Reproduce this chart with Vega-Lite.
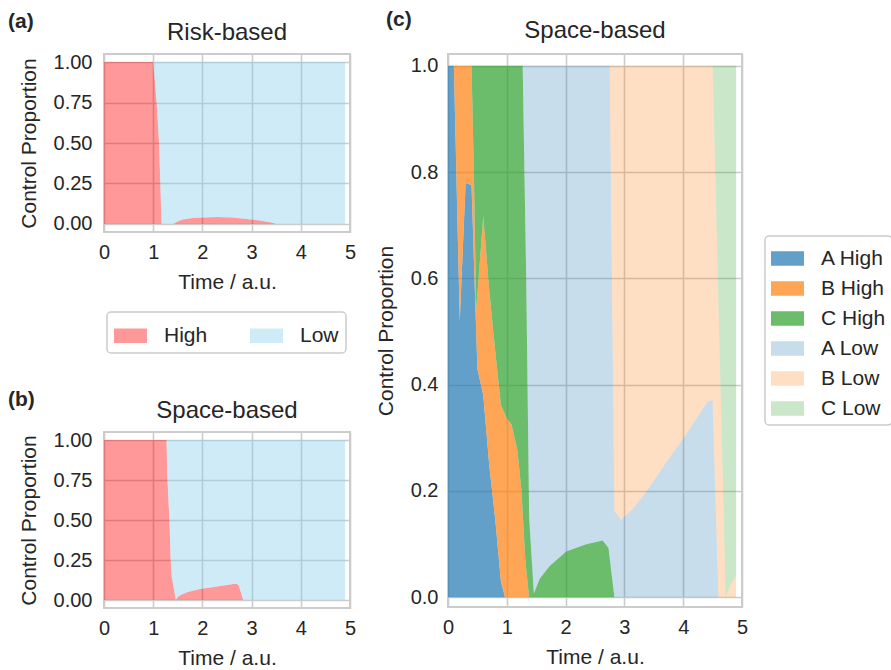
{
  "$schema": "https://vega.github.io/schema/vega-lite/v6.json",
  "background": "white",
  "padding": {"left": 8, "top": 9, "right": 0, "bottom": 0},
  "config": {
    "font": "Liberation Sans",
    "view": {"stroke": "#cccccc", "strokeWidth": 2},
    "axis": {"grid": true, "gridColor": "#cccccc", "gridWidth": 1.6, "domain": false, "ticks": false, "tickSize": 0, "labelFontSize": 20, "labelColor": "#262626", "titleFontSize": 21, "titleColor": "#262626", "titleFontWeight": "normal", "labelFlush": false, "labelOverlap": false},
    "axisX": {"labelPadding": 10, "titlePadding": 9},
    "axisY": {"labelPadding": 11, "titlePadding": 14},
    "title": {"fontSize": 24, "fontWeight": "normal", "color": "#262626", "baseline": "alphabetic"},
    "legend": {"symbolType": "M-1,-0.44H1V0.44H-1Z", "symbolSize": 1089, "symbolStrokeWidth": 0, "labelFontSize": 21, "labelColor": "#262626", "labelOffset": 17, "labelLimit": 300, "strokeColor": "#cccccc", "strokeWidth": 1.5, "cornerRadius": 4, "fillColor": "white"}
  },
  "datasets": {
    "a": [
      {"t": 0, "High": 1, "Low": 0},
      {"t": 1.0, "High": 1, "Low": 0},
      {"t": 1.07, "High": 0.75, "Low": 0.25},
      {"t": 1.12, "High": 0.5, "Low": 0.5},
      {"t": 1.145, "High": 0.25, "Low": 0.75},
      {"t": 1.17, "High": 0, "Low": 1},
      {"t": 1.41, "High": 0, "Low": 1},
      {"t": 1.5, "High": 0.017, "Low": 0.983},
      {"t": 1.6, "High": 0.027, "Low": 0.973},
      {"t": 1.8, "High": 0.036, "Low": 0.964},
      {"t": 2.0, "High": 0.04, "Low": 0.96},
      {"t": 2.3, "High": 0.042, "Low": 0.958},
      {"t": 2.6, "High": 0.039, "Low": 0.961},
      {"t": 2.9, "High": 0.031, "Low": 0.969},
      {"t": 3.2, "High": 0.02, "Low": 0.98},
      {"t": 3.4, "High": 0.008, "Low": 0.992},
      {"t": 3.5, "High": 0, "Low": 1},
      {"t": 4.9, "High": 0, "Low": 1}
    ],
    "b": [
      {"t": 0, "High": 1, "Low": 0},
      {"t": 1.27, "High": 1, "Low": 0},
      {"t": 1.29, "High": 0.75, "Low": 0.25},
      {"t": 1.33, "High": 0.5, "Low": 0.5},
      {"t": 1.355, "High": 0.25, "Low": 0.75},
      {"t": 1.375, "High": 0.15, "Low": 0.85},
      {"t": 1.46, "High": 0, "Low": 1},
      {"t": 1.5, "High": 0.02, "Low": 0.98},
      {"t": 1.58, "High": 0.035, "Low": 0.965},
      {"t": 1.7, "High": 0.05, "Low": 0.95},
      {"t": 1.95, "High": 0.068, "Low": 0.932},
      {"t": 2.3, "High": 0.084, "Low": 0.916},
      {"t": 2.63, "High": 0.1, "Low": 0.9},
      {"t": 2.7, "High": 0.1, "Low": 0.9},
      {"t": 2.74, "High": 0.09, "Low": 0.91},
      {"t": 2.83, "High": 0, "Low": 1},
      {"t": 4.9, "High": 0, "Low": 1}
    ],
    "c": [
      {"t": 0, "A High": 1, "B High": 0, "C High": 0, "A Low": 0, "B Low": 0, "C Low": 0},
      {"t": 0.1, "A High": 1, "B High": 0, "C High": 0, "A Low": 0, "B Low": 0, "C Low": 0},
      {"t": 0.2, "A High": 0.52, "B High": 0.48, "C High": 0, "A Low": 0, "B Low": 0, "C Low": 0},
      {"t": 0.3, "A High": 0.78, "B High": 0.22, "C High": 0, "A Low": 0, "B Low": 0, "C Low": 0},
      {"t": 0.4, "A High": 0.775, "B High": 0.225, "C High": 0, "A Low": 0, "B Low": 0, "C Low": 0},
      {"t": 0.44, "A High": 0.637, "B High": 0.163, "C High": 0.2, "A Low": 0, "B Low": 0, "C Low": 0},
      {"t": 0.48, "A High": 0.499, "B High": 0.041, "C High": 0.46, "A Low": 0, "B Low": 0, "C Low": 0},
      {"t": 0.5, "A High": 0.43, "B High": 0.14, "C High": 0.43, "A Low": 0, "B Low": 0, "C Low": 0},
      {"t": 0.6, "A High": 0.38, "B High": 0.337, "C High": 0.283, "A Low": 0, "B Low": 0, "C Low": 0},
      {"t": 0.7, "A High": 0.25, "B High": 0.329, "C High": 0.421, "A Low": 0, "B Low": 0, "C Low": 0},
      {"t": 0.8, "A High": 0.15, "B High": 0.317, "C High": 0.533, "A Low": 0, "B Low": 0, "C Low": 0},
      {"t": 0.9, "A High": 0.03, "B High": 0.332, "C High": 0.638, "A Low": 0, "B Low": 0, "C Low": 0},
      {"t": 0.97, "A High": 0, "B High": 0.344, "C High": 0.656, "A Low": 0, "B Low": 0, "C Low": 0},
      {"t": 1.0, "A High": 0, "B High": 0.337, "C High": 0.663, "A Low": 0, "B Low": 0, "C Low": 0},
      {"t": 1.08, "A High": 0, "B High": 0.325, "C High": 0.675, "A Low": 0, "B Low": 0, "C Low": 0},
      {"t": 1.18, "A High": 0, "B High": 0.277, "C High": 0.723, "A Low": 0, "B Low": 0, "C Low": 0},
      {"t": 1.25, "A High": 0, "B High": 0.2, "C High": 0.8, "A Low": 0, "B Low": 0, "C Low": 0},
      {"t": 1.27, "A High": 0, "B High": 0.16, "C High": 0.84, "A Low": 0, "B Low": 0, "C Low": 0},
      {"t": 1.31, "A High": 0, "B High": 0.08, "C High": 0.653, "A Low": 0.267, "B Low": 0, "C Low": 0},
      {"t": 1.33, "A High": 0, "B High": 0.053, "C High": 0.547, "A Low": 0.4, "B Low": 0, "C Low": 0},
      {"t": 1.38, "A High": 0, "B High": 0, "C High": 0.15, "A Low": 0.85, "B Low": 0, "C Low": 0},
      {"t": 1.46, "A High": 0, "B High": 0, "C High": 0.007, "A Low": 0.993, "B Low": 0, "C Low": 0},
      {"t": 1.56, "A High": 0, "B High": 0, "C High": 0.035, "A Low": 0.965, "B Low": 0, "C Low": 0},
      {"t": 1.73, "A High": 0, "B High": 0, "C High": 0.059, "A Low": 0.941, "B Low": 0, "C Low": 0},
      {"t": 2.01, "A High": 0, "B High": 0, "C High": 0.086, "A Low": 0.914, "B Low": 0, "C Low": 0},
      {"t": 2.35, "A High": 0, "B High": 0, "C High": 0.1, "A Low": 0.9, "B Low": 0, "C Low": 0},
      {"t": 2.63, "A High": 0, "B High": 0, "C High": 0.107, "A Low": 0.893, "B Low": 0, "C Low": 0},
      {"t": 2.73, "A High": 0, "B High": 0, "C High": 0.093, "A Low": 0.907, "B Low": 0, "C Low": 0},
      {"t": 2.75, "A High": 0, "B High": 0, "C High": 0.074, "A Low": 0.926, "B Low": 0, "C Low": 0},
      {"t": 2.83, "A High": 0, "B High": 0, "C High": 0, "A Low": 0.163, "B Low": 0.837, "C Low": 0},
      {"t": 2.94, "A High": 0, "B High": 0, "C High": 0, "A Low": 0.146, "B Low": 0.854, "C Low": 0},
      {"t": 3.14, "A High": 0, "B High": 0, "C High": 0, "A Low": 0.166, "B Low": 0.834, "C Low": 0},
      {"t": 3.4, "A High": 0, "B High": 0, "C High": 0, "A Low": 0.203, "B Low": 0.797, "C Low": 0},
      {"t": 3.71, "A High": 0, "B High": 0, "C High": 0, "A Low": 0.254, "B Low": 0.746, "C Low": 0},
      {"t": 3.99, "A High": 0, "B High": 0, "C High": 0, "A Low": 0.297, "B Low": 0.703, "C Low": 0},
      {"t": 4.27, "A High": 0, "B High": 0, "C High": 0, "A Low": 0.344, "B Low": 0.656, "C Low": 0},
      {"t": 4.41, "A High": 0, "B High": 0, "C High": 0, "A Low": 0.368, "B Low": 0.632, "C Low": 0},
      {"t": 4.5, "A High": 0, "B High": 0, "C High": 0, "A Low": 0.371, "B Low": 0.629, "C Low": 0},
      {"t": 4.6, "A High": 0, "B High": 0, "C High": 0, "A Low": 0, "B Low": 0.55, "C Low": 0.45},
      {"t": 4.7, "A High": 0, "B High": 0, "C High": 0, "A Low": 0, "B Low": 0.1, "C Low": 0.9},
      {"t": 4.72, "A High": 0, "B High": 0, "C High": 0, "A Low": 0, "B Low": 0, "C Low": 1},
      {"t": 4.8, "A High": 0, "B High": 0, "C High": 0, "A Low": 0, "B Low": 0.022, "C Low": 0.978},
      {"t": 4.9, "A High": 0, "B High": 0, "C High": 0, "A Low": 0, "B Low": 0.042, "C Low": 0.958}
    ]
  },
  "spacing": 17,
  "resolve": {"scale": {"color": "independent", "opacity": "independent"}, "legend": {"color": "independent", "opacity": "independent"}},
  "hconcat": [
    {
      "spacing": 35,
      "resolve": {"scale": {"color": "independent"}, "legend": {"color": "independent"}},
      "vconcat": [
        {
          "title": {"text": "(a)", "anchor": "start", "frame": "group", "fontWeight": "bold", "fontSize": 21, "dx": -96, "dy": 29, "offset": 0, "baseline": "alphabetic"},
          "vconcat": [
            {
              "width": 246,
              "height": 178,
              "title": {"text": "Risk-based", "offset": 7},
              "data": {"name": "a"},
              "transform": [{"fold": ["High", "Low"], "as": ["g", "v"]}],
              "mark": {"type": "area", "opacity": 0.4, "interpolate": "linear"},
              "encoding": {
                "x": {"field": "t", "type": "quantitative", "scale": {"domain": [0, 5], "nice": false, "zero": false}, "axis": {"values": [0, 1, 2, 3, 4, 5], "format": "d", "title": "Time / a.u."}},
                "y": {"field": "v", "type": "quantitative", "stack": "zero", "scale": {"domain": [-0.05, 1.05], "nice": false, "zero": false}, "axis": {"values": [0, 0.25, 0.5, 0.75, 1], "format": ".2f", "title": "Control Proportion", "labelPadding": 12}},
                "color": {"field": "g", "type": "nominal", "scale": {"domain": ["High", "Low"], "range": ["#ff0000", "#87ceeb"]}, "legend": {"orient": "none", "legendX": 3, "legendY": 258, "direction": "horizontal", "title": null, "padding": 7, "columnPadding": 42, "symbolOpacity": 0.4}},
                "order": {"field": "g", "sort": "ascending"}
              }
            }
          ]
        },
        {
          "title": {"text": "(b)", "anchor": "start", "frame": "group", "fontWeight": "bold", "fontSize": 21, "dx": -96, "dy": 29, "offset": 0, "baseline": "alphabetic"},
          "vconcat": [
            {
              "width": 246,
              "height": 176,
              "title": {"text": "Space-based", "offset": 7},
              "data": {"name": "b"},
              "transform": [{"fold": ["High", "Low"], "as": ["g", "v"]}],
              "mark": {"type": "area", "opacity": 0.4, "interpolate": "linear"},
              "encoding": {
                "x": {"field": "t", "type": "quantitative", "scale": {"domain": [0, 5], "nice": false, "zero": false}, "axis": {"values": [0, 1, 2, 3, 4, 5], "format": "d", "title": "Time / a.u."}},
                "y": {"field": "v", "type": "quantitative", "stack": "zero", "scale": {"domain": [-0.05, 1.05], "nice": false, "zero": false}, "axis": {"values": [0, 0.25, 0.5, 0.75, 1], "format": ".2f", "title": "Control Proportion", "labelPadding": 12}},
                "color": {"field": "g", "type": "nominal", "scale": {"domain": ["High", "Low"], "range": ["#ff0000", "#87ceeb"]}, "legend": null},
                "order": {"field": "g", "sort": "ascending"}
              }
            }
          ]
        }
      ]
    },
    {
      "title": {"text": "(c)", "anchor": "start", "frame": "group", "fontWeight": "bold", "fontSize": 21, "dx": -62, "dy": 29, "offset": 0, "baseline": "alphabetic"},
      "vconcat": [
        {
          "width": 294,
          "height": 553,
          "title": {"text": "Space-based", "offset": 11},
          "data": {"name": "c"},
          "transform": [
            {"fold": ["A High", "B High", "C High", "A Low", "B Low", "C Low"], "as": ["s", "v"]},
            {"calculate": "indexof(['A High','B High','C High','A Low','B Low','C Low'], datum.s)", "as": "o"}
          ],
          "mark": {"type": "area", "interpolate": "linear"},
          "encoding": {
            "x": {"field": "t", "type": "quantitative", "scale": {"domain": [0, 5], "nice": false, "zero": false}, "axis": {"values": [0, 1, 2, 3, 4, 5], "format": "d", "title": "Time / a.u."}},
            "y": {"field": "v", "type": "quantitative", "stack": "zero", "scale": {"domain": [-0.0182, 1.022], "nice": false, "zero": false}, "axis": {"values": [0, 0.2, 0.4, 0.6, 0.8, 1], "format": ".1f", "title": "Control Proportion", "labelPadding": 10}},
            "color": {"field": "s", "type": "nominal", "scale": {"domain": ["A High", "B High", "C High", "A Low", "B Low", "C Low"], "range": ["#1f77b4", "#ff7f0e", "#2ca02c", "#1f77b4", "#ff7f0e", "#2ca02c"]}, "legend": {"orient": "none", "legendX": 317, "legendY": 182, "direction": "vertical", "title": null, "padding": 6, "rowPadding": 3}},
            "opacity": {"field": "s", "type": "nominal", "scale": {"type": "ordinal", "domain": ["A High", "B High", "C High", "A Low", "B Low", "C Low"], "range": [0.7, 0.7, 0.7, 0.25, 0.25, 0.25]}, "legend": {"orient": "none", "legendX": 317, "legendY": 182, "direction": "vertical", "title": null, "padding": 6, "rowPadding": 3}},
            "order": {"field": "o", "type": "quantitative"}
          }
        }
      ]
    }
  ]
}
